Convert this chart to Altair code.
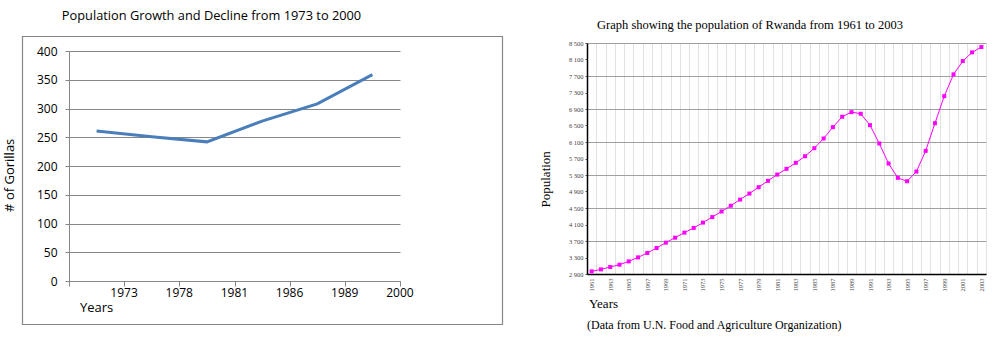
import altair as alt
import pandas as pd

# ---------------- data ----------------
gor_years = ["1973", "1978", "1981", "1986", "1989", "2000"]
gor_counts = [261, 251, 242, 278, 308, 359]
gor_ticks = [0, 50, 100, 150, 200, 250, 300, 350, 400]

rw_years = list(range(1961, 2004))
rw_pop = [2963, 3012, 3070, 3126, 3206, 3303, 3410, 3531, 3660, 3781,
          3903, 4017, 4146, 4280, 4416, 4555, 4704, 4850, 5005, 5158,
          5310, 5449, 5595, 5755, 5950, 6185, 6460, 6712, 6824, 6785,
          6508, 6064, 5578, 5231, 5148, 5384, 5886, 6556, 7212, 7739,
          8062, 8273, 8402]
rw_ticks = list(range(2900, 8501, 400))

left_title = "Population Growth and Decline from 1973 to 2000"
left_ytitle = "# of Gorillas"
left_xtitle = "Years"
right_title = "Graph showing the population of Rwanda from 1961 to 2003"
right_ytitle = "Population"
right_xtitle = "Years"
right_note = "(Data from U.N. Food and Agriculture Organization)"

SANS = "Open Sans"
SERIF = "Liberation Serif"
GRAY = "#868686"

one = pd.DataFrame({"k": [0]})

# ---------------- left panel ----------------
LW, LH = 331, 238
left_df = pd.DataFrame({"year": gor_years, "count": gor_counts})

anchor = alt.Chart(one).mark_rect(fillOpacity=0, strokeOpacity=0).encode(
    x=alt.value(-69), x2=alt.value(925), y=alt.value(-42.7), y2=alt.value(309.3))
frame = alt.Chart(one).mark_rect(fillOpacity=0, stroke=GRAY, strokeWidth=1.2).encode(
    x=alt.value(-46.5), x2=alt.value(433.5), y=alt.value(-6.5), y2=alt.value(281.5))

left_line = alt.Chart(left_df).mark_line(color="#4a7ebb", strokeWidth=3).encode(
    x=alt.X("year:N", sort=gor_years, bandPosition=0.5,
            scale=alt.Scale(type="band", paddingInner=0, paddingOuter=0),
            axis=alt.Axis(title=None, tickBand="extent", labelAngle=0, labelOffset=27,
                          tickSize=5, tickColor=GRAY, domainColor=GRAY, grid=False,
                          labelFont=SANS, labelFontSize=12, labelColor="black",
                          labelPadding=1)),
    y=alt.Y("count:Q", scale=alt.Scale(domain=[0, 400], range=[LH, 8], nice=False),
            axis=alt.Axis(title=None, values=gor_ticks, tickSize=4, tickColor=GRAY,
                          domainColor=GRAY, gridColor=GRAY, gridWidth=1,
                          labelFont=SANS, labelFontSize=12, labelColor="black",
                          labelPadding=8)),
)

lt = alt.Chart(one).mark_text(text=left_title, font=SANS, fontSize=12.8, color="black",
                              align="center", baseline="alphabetic").encode(
    x=alt.value(142.5), y=alt.value(-23.5))
lyt = alt.Chart(one).mark_text(text=left_ytitle, font=SANS, fontSize=13, color="black",
                               align="center", baseline="alphabetic", angle=270).encode(
    x=alt.value(-55), y=alt.value(132.3))
lxt = alt.Chart(one).mark_text(text=left_xtitle, font=SANS, fontSize=13, color="black",
                               align="left", baseline="alphabetic").encode(
    x=alt.value(11), y=alt.value(268.5))

left = alt.layer(anchor, frame, left_line, lt, lyt, lxt).properties(width=LW, height=LH)

# ---------------- right panel ----------------
RW, RH = 399, 231
right_df = pd.DataFrame({"year": rw_years, "pop": rw_pop})

right_line = alt.Chart(right_df).mark_line(
    color="#ff00ff", strokeWidth=1,
    point=alt.OverlayMarkDef(shape="square", size=16, filled=True, color="#ff00ff"),
).encode(
    x=alt.X("year:O", bandPosition=0.5,
            scale=alt.Scale(type="band", paddingInner=0, paddingOuter=0),
            axis=alt.Axis(title=None, tickBand="extent", labelAngle=270,
                          labelExpr="datum.value % 2 == 1 ? datum.label : ''",
                          ticks=False, domainColor="black", domainWidth=1.5,
                          grid=True, gridColor="#e2e2e2", gridWidth=1,
                          labelFont=SERIF, labelFontSize=6.5, labelColor="#444444",
                          labelPadding=4)),
    y=alt.Y("pop:Q", scale=alt.Scale(domain=[2900, 8500], nice=False, zero=False),
            axis=alt.Axis(title=None, values=rw_ticks, tickSize=2, tickColor="#555555",
                          domainColor="black", domainWidth=1.5,
                          gridColor="#a0a0a0", gridWidth=1,
                          gridOpacity={"condition": {"test": "datum.value % 800 == 500", "value": 1}, "value": 0},
                          labelExpr="replace(format(datum.value, ','), ',', ' ')",
                          labelFont=SERIF, labelFontSize=6.5, labelColor="#444444",
                          labelPadding=2)),
)

rt = alt.Chart(one).mark_text(text=right_title, font=SERIF, fontSize=12.5, color="black",
                              align="center", baseline="alphabetic").encode(
    x=alt.value(163), y=alt.value(-14.4))
ryt = alt.Chart(one).mark_text(text=right_ytitle, font=SERIF, fontSize=13, color="black",
                               align="center", baseline="alphabetic", angle=270).encode(
    x=alt.value(-37), y=alt.value(136.3))
rxt = alt.Chart(one).mark_text(text=right_xtitle, font=SERIF, fontSize=13, color="black",
                               align="left", baseline="alphabetic").encode(
    x=alt.value(2), y=alt.value(265.3))
rnote = alt.Chart(one).mark_text(text=right_note, font=SERIF, fontSize=12, color="black",
                                 align="left", baseline="alphabetic").encode(
    x=alt.value(0), y=alt.value(286.3))

right = alt.layer(right_line, rt, ryt, rxt, rnote).properties(width=RW, height=RH)

chart = alt.hconcat(left, right, spacing=187, bounds="flush").properties(
    padding=0, background="white"
).configure_view(strokeWidth=0)

chart.save("out.html", embed_options={"renderer": "svg", "actions": False})
